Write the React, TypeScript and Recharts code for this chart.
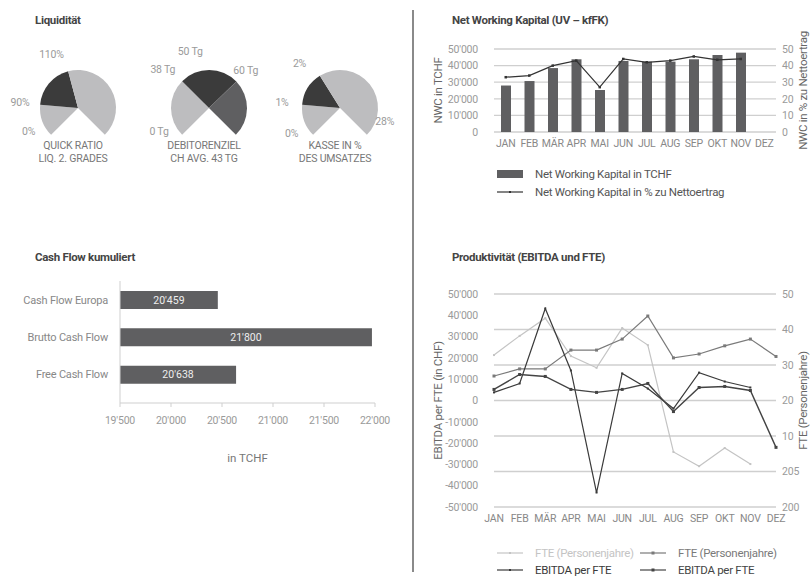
import React from 'react';
import {
  PieChart,
  Pie,
  Cell,
  BarChart,
  Bar,
  ComposedChart,
  LineChart,
  Line,
  XAxis,
  YAxis,
  CartesianGrid,
  LabelList,
  Legend,
} from 'recharts';

const FONT = 'Roboto, "Liberation Sans", sans-serif';

// --- data ---
const months = ['JAN', 'FEB', 'MÄR', 'APR', 'MAI', 'JUN', 'JUL', 'AUG', 'SEP', 'OKT', 'NOV', 'DEZ'];

// Liquidität gauges (segment spans in degrees of a 270° gauge)
const quickSegments = [50, 70, 150];
const quickLabels = ['0%', '90%', '110%'];
const debitorSegments = [90, 91, 89];
const debitorLabels = ['0 Tg', '38 Tg', '50 Tg', '60 Tg'];
const kasseSegments = [50, 53, 167];
const kasseLabels = ['0%', '1%', '2%', '28%'];

// Net Working Kapital
const nwcTchf = [28000, 30700, 38500, 43800, 25300, 42800, 42400, 42400, 43800, 46400, 47800, null];
const nwcPercent = [33, 34, 40, 43, 27, 44, 42, 43, 45.5, 43.5, 44, null];
const nwcLeftTicks = [0, 10000, 20000, 30000, 40000, 50000];
const nwcRightTicks = [0, 10, 20, 30, 40, 50];

// Cash Flow kumuliert
const cashCategories = ['Cash Flow Europa', 'Brutto Cash Flow', 'Free Cash Flow'];
const cashValues = [20459, 21970, 20638];
const cashLabels = ["20'459", "21'800", "20'638"];
const cashTicks = [19500, 20000, 20500, 21000, 21500, 22000];

// Produktivität
const ftePrev = [32.8, 38.2, 43.2, 32.5, 29.2, 40.4, 35.6, 5.5, 1.5, 6.6, 2.1, null];
const fteCurr = [26.9, 28.9, 28.9, 34.2, 34.2, 37.3, 43.8, 32.0, 33.1, 35.4, 37.3, 32.4];
const ebitdaPrev = [3800, 8000, 43200, 14100, -43200, 12700, 5600, -3800, 13100, 8900, 6100, null];
const ebitdaCurr = [5200, 12200, 11300, 5200, 3800, 5200, 8000, -5200, 6100, 6600, 4700, -22000];
const ebitdaTicks = [-50000, -40000, -30000, -20000, -10000, 0, 10000, 20000, 30000, 40000, 50000];
const fteTicks = [-10, 0, 10, 20, 30, 40, 50];
const fteTickLabels = ['200', '205', '10', '20', '30', '40', '50'];

const nwcData = months.map((m, i) => ({ month: m, nwc: nwcTchf[i], pct: nwcPercent[i] }));
const cashData = cashCategories.map((c, i) => ({ name: c, value: cashValues[i], label: cashLabels[i] }));
const prodData = months.map((m, i) => ({
  month: m,
  ftePrev: ftePrev[i],
  fteCurr: fteCurr[i],
  ebitdaPrev: ebitdaPrev[i],
  ebitdaCurr: ebitdaCurr[i],
}));

const nwcLegendOrder = ['nwc', 'pct'];
const prodLegendOrder = ['ftePrev', 'fteCurr', 'ebitdaPrev', 'ebitdaCurr'];
const squareMarkers = ['fteCurr', 'ebitdaCurr'];

const fmt = (v: number) => {
  const s = String(Math.abs(v)).replace(/\B(?=(\d{3})+(?!\d))/g, "'");
  return v < 0 ? '-' + s : s;
};

const LIGHT = '#bdbdbf';
const DARK = '#3b3b3b';
const MID = '#5f5f61';
const tickStyle = { fill: '#9a9a9a', fontSize: 10.5, fontFamily: FONT, letterSpacing: -0.2 };
const monthTick = { ...tickStyle, fill: '#888', fontSize: 10.5 };
const axisTitle = { textAnchor: 'middle', fill: '#666', fontSize: 11.5, fontFamily: FONT, letterSpacing: -0.3 };

const squareDot = (color: string, size = 3) => (p: any) => {
  if (p.cy == null || p.value == null) return <g key={p.index} />;
  return <rect key={p.index} x={p.cx - size / 2} y={p.cy - size / 2} width={size} height={size} fill={color} />;
};

const Title = ({ text, left, top }: { text: string; left: number; top: number }) => (
  <div
    style={{
      position: 'absolute',
      left,
      top,
      fontFamily: FONT,
      fontWeight: 700,
      fontSize: 11.5,
      letterSpacing: -0.3,
      color: '#444',
      lineHeight: '14px',
      whiteSpace: 'nowrap',
    }}
  >
    {text}
  </div>
);

// --- gauges ---
type GaugeProps = {
  segments: number[];
  colors: string[];
  labels: string[];
  labelAngles: number[];
  caption: string[];
  left: number;
};

const Gauge = ({ segments, colors, labels, labelAngles, caption, left }: GaugeProps) => {
  const cx = 65;
  const cy = 60;
  const r = 38;
  const data = segments.map((v, i) => ({ name: `s${i}`, value: v }));
  return (
    <div style={{ position: 'absolute', left, top: 43, width: 130, height: 125 }}>
      <PieChart width={130} height={100}>
        <Pie
          data={data}
          dataKey="value"
          cx={cx}
          cy={cy}
          outerRadius={r}
          startAngle={225}
          endAngle={-45}
          stroke="none"
          isAnimationActive={false}
        >
          {data.map((_, i) => (
            <Cell key={`c${i}`} fill={colors[i]} />
          ))}
        </Pie>
      </PieChart>
      <svg width={130} height={100} style={{ position: 'absolute', left: 0, top: 0, overflow: 'visible' }}>
        {labels.map((t, i) => {
          const a = (labelAngles[i] * Math.PI) / 180;
          return (
            <text
              key={t}
              x={cx + 53 * Math.cos(a)}
              y={cy - 53 * Math.sin(a)}
              textAnchor="middle"
              dominantBaseline="central"
              fontFamily={FONT}
              fontSize={10.5}
              letterSpacing={-0.2}
              fill="#9a9a9a"
            >
              {t}
            </text>
          );
        })}
      </svg>
      <div
        style={{
          position: 'absolute',
          left: cx - 60,
          width: 120,
          top: 97,
          textAlign: 'center',
          fontFamily: FONT,
          fontSize: 10.5,
          letterSpacing: -0.2,
          color: '#777',
          lineHeight: '12.5px',
        }}
      >
        {caption.map((c) => (
          <div key={c}>{c}</div>
        ))}
      </div>
    </div>
  );
};

// --- legends ---
const LegendIcon = ({ entry, square }: { entry: any; square: boolean }) => {
  if (entry.type === 'rect') {
    return (
      <svg width={38} height={12}>
        <rect x={0} y={2} width={26} height={8} fill={entry.color} />
      </svg>
    );
  }
  return (
    <svg width={38} height={12}>
      <line x1={0} x2={26} y1={6} y2={6} stroke={entry.color} strokeWidth={1.2} />
      {square ? (
        <rect x={11.5} y={4.5} width={3} height={3} fill={entry.color} />
      ) : (
        <rect x={12} y={5} width={2} height={2} fill={entry.color} />
      )}
    </svg>
  );
};

const sortBy = (payload: any[], order: string[]) =>
  [...payload].sort((a, b) => order.indexOf(a.dataKey) - order.indexOf(b.dataKey));

const renderNwcLegend = (props: any) => {
  const payload = sortBy(props.payload || [], nwcLegendOrder);
  return (
    <div style={{ fontFamily: FONT, fontSize: 11.5, letterSpacing: -0.3, color: '#555' }}>
      {payload.map((entry: any, i: number) => (
        <div key={i} style={{ display: 'flex', alignItems: 'center', height: 18 }}>
          <LegendIcon entry={entry} square={false} />
          <span style={{ whiteSpace: 'nowrap' }}>{entry.value}</span>
        </div>
      ))}
    </div>
  );
};

const renderProdLegend = (props: any) => {
  const payload = sortBy(props.payload || [], prodLegendOrder);
  return (
    <div style={{ fontFamily: FONT, fontSize: 11.5, letterSpacing: -0.3, display: 'grid', gridTemplateColumns: '143px 170px' }}>
      {payload.map((entry: any, i: number) => (
        <div key={i} style={{ display: 'flex', alignItems: 'center', height: 17, color: entry.color }}>
          <LegendIcon entry={entry} square={squareMarkers.includes(entry.dataKey)} />
          <span style={{ whiteSpace: 'nowrap' }}>{entry.value}</span>
        </div>
      ))}
    </div>
  );
};

export default function App() {
  return (
    <div style={{ position: 'absolute', left: 0, top: 0, width: 811, height: 577, background: '#fff', overflow: 'hidden' }}>
      {/* divider */}
      <div style={{ position: 'absolute', left: 412, top: 10, width: 1.5, height: 562, background: '#8a8a8a' }} />

      <Title text="Liquidität" left={35} top={13} />
      <Gauge
        segments={quickSegments}
        colors={[LIGHT, DARK, LIGHT]}
        labels={quickLabels}
        labelAngles={[213, 179, 114]}
        caption={['QUICK RATIO', 'LIQ. 2. GRADES']}
        left={8}
      />
      <Gauge
        segments={debitorSegments}
        colors={[LIGHT, DARK, MID]}
        labels={debitorLabels}
        labelAngles={[212, 141, 105, 38]}
        caption={['DEBITORENZIEL', 'CH AVG. 43 TG']}
        left={139}
      />
      <Gauge
        segments={kasseSegments}
        colors={[LIGHT, DARK, LIGHT]}
        labels={kasseLabels}
        labelAngles={[215, 179, 132, -20]}
        caption={['KASSE IN %', 'DES UMSATZES']}
        left={270}
      />

      <div style={{ position: 'absolute', left: 420, top: 20 }}>
        <ComposedChart width={391} height={185} data={nwcData} margin={{ top: 29, right: 0, bottom: 50, left: 0 }}>
          <CartesianGrid vertical={false} yAxisId="left" stroke="#cfcfcf" strokeWidth={1.3} />
          <XAxis dataKey="month" interval={0} axisLine={false} tickLine={false} height={23} tick={monthTick} />
          <YAxis
            yAxisId="left"
            domain={[0, 50000]}
            ticks={nwcLeftTicks}
            interval={0}
            width={74}
            axisLine={false}
            tickLine={false}
            tickMargin={10}
            tick={tickStyle}
            tickFormatter={fmt}
            label={{ value: 'NWC in TCHF', angle: -90, position: 'insideLeft', offset: 18, style: axisTitle }}
          />
          <YAxis
            yAxisId="right"
            orientation="right"
            domain={[0, 50]}
            ticks={nwcRightTicks}
            interval={0}
            width={35}
            axisLine={false}
            tickLine={false}
            tickMargin={0}
            tick={tickStyle}
            label={{ value: 'NWC in % zu Nettoertrag', angle: -90, position: 'insideRight', offset: 8, style: axisTitle }}
          />
          <Bar yAxisId="left" dataKey="nwc" name="Net Working Kapital in TCHF" fill={MID} barSize={10} legendType="rect" isAnimationActive={false} />
          <Line
            yAxisId="right"
            dataKey="pct"
            name="Net Working Kapital in % zu Nettoertrag"
            stroke="#333"
            strokeWidth={1.2}
            dot={squareDot('#333', 2.5)}
            legendType="line"
            isAnimationActive={false}
          />
          <Legend
            layout="horizontal"
            verticalAlign="middle"
            align="center"
            content={renderNwcLegend}
            wrapperStyle={{ position: 'absolute', left: 77, top: 145, width: 300 }}
          />
        </ComposedChart>
      </div>
      <Title text="Net Working Kapital (UV – kfFK)" left={452} top={13} />

      <Title text="Cash Flow kumuliert" left={35} top={250} />
      <div style={{ position: 'absolute', left: 0, top: 270 }}>
        <BarChart width={400} height={200} data={cashData} layout="vertical" margin={{ top: 11, right: 25, bottom: 7, left: 0 }}>
          <XAxis
            type="number"
            domain={[19500, 22000]}
            ticks={cashTicks}
            interval={0}
            allowDataOverflow
            height={60}
            stroke="#cfcfcf"
            tickSize={4}
            tickMargin={10}
            tick={tickStyle}
            tickFormatter={fmt}
            label={{ value: 'in TCHF', position: 'insideBottom', offset: 1, style: { fill: '#777', fontSize: 11.5, fontFamily: FONT } }}
          />
          <YAxis
            type="category"
            dataKey="name"
            width={120}
            stroke="#cfcfcf"
            tickLine={false}
            tickMargin={6}
            padding={{ top: 0, bottom: 10 }}
            tick={{ ...tickStyle, fill: '#888', fontSize: 11 }}
          />
          <Bar dataKey="value" fill={MID} barSize={18} isAnimationActive={false}>
            <LabelList dataKey="label" position="center" fill="#eee" fontSize={10.5} fontFamily={FONT} />
          </Bar>
        </BarChart>
      </div>

      <Title text="Produktivität (EBITDA und FTE)" left={452} top={250} />
      <div style={{ position: 'absolute', left: 420, top: 284 }}>
        <LineChart width={391} height={300} data={prodData} margin={{ top: 10, right: 0, bottom: 54, left: 0 }}>
          <CartesianGrid vertical={false} yAxisId="right" stroke="#cfcfcf" strokeWidth={1.3} />
          <XAxis dataKey="month" interval={0} axisLine={false} tickLine={false} height={23} tick={monthTick} />
          <YAxis
            yAxisId="left"
            domain={[-50000, 50000]}
            ticks={ebitdaTicks}
            interval={0}
            width={74}
            axisLine={false}
            tickLine={false}
            tickMargin={10}
            tick={tickStyle}
            tickFormatter={fmt}
            label={{ value: 'EBITDA per FTE (in CHF)', angle: -90, position: 'insideLeft', offset: 18, style: axisTitle }}
          />
          <YAxis
            yAxisId="right"
            orientation="right"
            domain={[-10, 50]}
            ticks={fteTicks}
            interval={0}
            width={35}
            axisLine={false}
            tickLine={false}
            tickMargin={0}
            tick={tickStyle}
            tickFormatter={(v: number) => fteTickLabels[fteTicks.indexOf(v)]}
            label={{ value: 'FTE (Personenjahre)', angle: -90, position: 'insideRight', offset: 8, style: axisTitle }}
          />
          <Line yAxisId="right" dataKey="ftePrev" name="FTE (Personenjahre)" stroke="#c4c4c4" strokeWidth={1.2} dot={squareDot('#c4c4c4', 2)} isAnimationActive={false} />
          <Line yAxisId="right" dataKey="fteCurr" name="FTE (Personenjahre)" stroke="#7a7a7a" strokeWidth={1.2} dot={squareDot('#7a7a7a', 3)} isAnimationActive={false} />
          <Line yAxisId="left" dataKey="ebitdaPrev" name="EBITDA per FTE" stroke="#3a3a3a" strokeWidth={1.2} dot={squareDot('#3a3a3a', 2)} isAnimationActive={false} />
          <Line yAxisId="left" dataKey="ebitdaCurr" name="EBITDA per FTE" stroke="#444" strokeWidth={1.4} dot={squareDot('#444', 3)} isAnimationActive={false} />
          <Legend
            layout="horizontal"
            verticalAlign="middle"
            align="center"
            content={renderProdLegend}
            wrapperStyle={{ position: 'absolute', left: 77, top: 260, width: 320 }}
          />
        </LineChart>
      </div>
    </div>
  );
}
